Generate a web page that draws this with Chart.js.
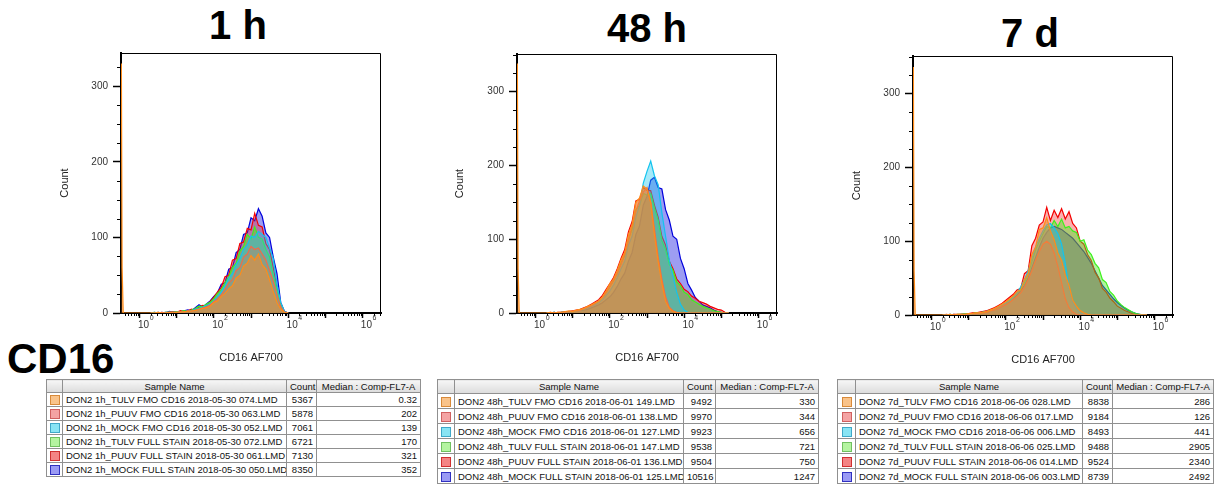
<!DOCTYPE html>
<html>
<head>
<meta charset="utf-8">
<title>CD16 AF700 histograms</title>
<script src="https://cdn.jsdelivr.net/npm/chart.js@4.4.1/dist/chart.umd.min.js"></script>
<style>
    body { margin: 0; width: 1218px; height: 494px; position: relative; overflow: hidden; background: #fff; font-family: "Liberation Sans", Arial, sans-serif; }
    .big-title { position: absolute; font-weight: bold; font-size: 40px; line-height: 40px; color: #000; white-space: nowrap; transform: translateX(-50%); }
    .marker-title { position: absolute; left: 7px; top: 338px; font-weight: bold; font-size: 42px; line-height: 42px; color: #000; }
    .panel { position: absolute; }
    .sample-table { position: absolute; border-collapse: collapse; table-layout: fixed; font-size: 9.5px; color: #111; background: #fff; border: 1px solid #404040; }
    .sample-table th, .sample-table td { border: 1px solid #909090; padding: 0 3px; white-space: nowrap; overflow: hidden; }
    .sample-table th { font-weight: normal; background: linear-gradient(#f6f6f6, #dcdcdc); text-align: center; }
    .sample-table td.num { text-align: right; }
    .sample-table td.key { padding: 0; text-align: center; }
    .swatch { display: inline-block; width: 8px; height: 8px; border: 1px solid; vertical-align: middle; }
</style>
</head>
<body>
<div class="big-title" style="left:238px; top:5px;">1 h</div>
<div class="big-title" style="left:647px; top:8px;">48 h</div>
<div class="big-title" style="left:1030px; top:13px;">7 d</div>
<div class="marker-title">CD16</div>

<div class="panel" style="left:54px; top:40px;"><canvas id="chart-1h" width="336" height="329"></canvas></div>
<div class="panel" style="left:449px; top:40px;"><canvas id="chart-48h" width="337" height="329"></canvas></div>
<div class="panel" style="left:846px; top:40px;"><canvas id="chart-7d" width="336" height="331"></canvas></div>

<script>
// ---- Data ----
// Bin centres on the CD16 AF700 axis, in decades (log10 of intensity)
const bins1h = [0.3, 0.4, 0.5, 0.6, 0.7, 0.8, 0.9, 1.0, 1.1, 1.2, 1.3, 1.4, 1.5, 1.6, 1.7, 1.8, 1.9, 2.0, 2.1, 2.2,
    2.3, 2.4, 2.5, 2.6, 2.7, 2.8, 2.9, 3.0, 3.1, 3.2, 3.3, 3.4, 3.5, 3.6, 3.7, 3.8, 3.9, 4.0];
const bins48h = [0.3, 0.4, 0.5, 0.6, 0.7, 0.8, 0.9, 1.0, 1.1, 1.2, 1.3, 1.4, 1.5, 1.6, 1.7, 1.8, 1.9, 2.0, 2.1, 2.2,
    2.3, 2.4, 2.5, 2.6, 2.7, 2.8, 2.9, 3.0, 3.1, 3.2, 3.3, 3.4, 3.5, 3.6, 3.7, 3.8, 3.9, 4.0, 4.1, 4.2,
    4.3, 4.4, 4.5, 4.6, 4.7, 4.8, 4.9, 5.0, 5.1, 5.2];
const bins7d = [0.3, 0.4, 0.5, 0.6, 0.7, 0.8, 0.9, 1.0, 1.1, 1.2, 1.3, 1.4, 1.5, 1.6, 1.7, 1.8, 1.9, 2.0, 2.1, 2.2,
    2.3, 2.4, 2.5, 2.6, 2.7, 2.8, 2.9, 3.0, 3.1, 3.2, 3.3, 3.4, 3.5, 3.6, 3.7, 3.8, 3.9, 4.0, 4.1, 4.2,
    4.3, 4.4, 4.5, 4.6, 4.7, 4.8, 4.9, 5.0, 5.1, 5.2, 5.3, 5.4, 5.5, 5.6, 5.7, 5.8];

// Off-scale pile-up in the first channel (TULV FMO, drawn on top)
const pileBins = [-0.49, -0.47, -0.44];
const pile1h = [330, 60, 0];
const pile48h = [338, 60, 0];
const pile7d = [336, 60, 0];

// Counts per channel, 1 h
const tulvFmo1h  = [0,0,1,0,0,1,0,1,1,2, 2,3,3,5,6,7,9,14,16,22, 26,32,36,46,50,62,66,76,70,78, 64,58,44,28,14,5,1,0];
const puuvFmo1h  = [0,0,0,1,0,1,1,1,2,1, 3,2,4,5,7,8,11,15,19,24, 31,40,44,56,60,74,78,88,84,86, 78,70,56,42,24,8,1,0];
const mockFmo1h  = [0,0,1,0,1,1,1,1,2,2, 3,3,5,6,8,10,12,16,22,28, 36,46,52,64,72,84,90,102,100,108, 104,100,86,72,38,14,2,0];
const tulvFull1h = [0,1,0,0,1,1,1,2,2,3, 2,4,6,9,8,12,14,19,26,31, 40,48,60,66,82,88,104,98,114,100, 98,84,74,50,30,10,1,0];
const puuvFull1h = [0,0,1,0,1,1,2,1,3,2, 3,5,4,8,10,9,15,21,28,34, 48,50,70,72,92,94,112,110,132,116, 114,92,84,60,34,12,2,0];
const mockFull1h = [0,1,0,1,0,2,1,2,2,3, 4,3,7,11,8,12,16,22,27,38, 40,58,60,80,84,104,106,126,122,138, 128,106,100,74,52,14,2,0];

// Counts per channel, 48 h
const tulvFmo48h  = [0,1,0,1,1,2,3,2,4,5, 6,9,11,14,16,22,30,40,46,58, 72,82,106,120,150,156,172,168,150,106,
    70,40,16,6,2,0,0,0,0,0, 0,0,0,0,0,0,0,0,0,0];
const puuvFmo48h  = [0,0,1,0,1,1,2,3,3,4, 6,8,10,13,17,21,28,36,44,54, 66,80,98,118,138,152,164,170,150,114,
    76,46,22,8,3,1,0,0,0,0, 0,0,0,0,0,0,0,0,0,0];
const mockFmo48h  = [0,0,1,0,1,1,2,2,3,4, 5,7,9,11,14,18,24,30,38,48, 60,70,92,104,130,146,176,192,206,186,
    174,136,104,72,50,28,12,4,1,0, 0,0,0,0,0,0,0,0,0,0];
const tulvFull48h = [0,0,1,0,1,1,2,2,3,4, 6,8,10,13,16,21,28,36,44,54, 68,78,100,114,140,146,162,160,162,142,
    126,98,86,66,58,42,37,28,25,18, 15,12,9,7,5,3,2,1,0,0];
const puuvFull48h = [0,1,0,1,1,2,2,3,4,5, 7,9,12,15,18,24,32,40,48,60, 74,86,110,124,152,154,170,166,166,146,
    130,104,92,70,60,46,40,32,29,23, 20,16,14,12,9,7,5,4,1,0];
const mockFull48h = [0,0,1,0,1,1,1,2,2,3, 4,5,7,9,11,14,18,22,28,36, 46,54,70,82,106,118,146,158,180,184,
    170,168,140,126,104,100,74,60,40,31, 21,16,11,9,7,4,2,1,0,0];

// Counts per channel, 7 d
const tulvFmo7d  = [0,0,1,0,1,1,1,2,2,3, 3,4,5,7,9,12,15,18,22,26, 32,34,48,56,82,92,116,118,132,114,
    102,84,74,54,40,20,12,6,3,1, 0,0,0,0,0,0,0,0,0,0, 0,0,0,0,0,0];
const puuvFmo7d  = [0,0,0,1,0,1,1,1,2,2, 3,3,4,6,7,9,12,14,17,21, 25,30,38,48,60,74,86,96,100,96,
    84,66,44,22,10,4,1,0,0,0, 0,0,0,0,0,0,0,0,0,0, 0,0,0,0,0,0];
const mockFmo7d  = [0,0,0,1,0,1,1,1,2,2, 3,4,5,6,8,10,13,16,19,24, 30,38,48,60,76,92,104,114,122,124,
    118,110,96,70,36,18,8,3,1,0, 0,0,0,0,0,0,0,0,0,0, 0,0,0,0,0,0];
const tulvFull7d = [0,0,1,0,1,1,2,1,2,3, 3,4,5,7,8,10,13,16,20,24, 30,36,44,56,72,88,100,110,120,118,
    128,120,130,118,120,114,112,100,102,88, 82,70,64,48,44,32,27,19,14,10, 7,4,2,1,0,0];
const puuvFull7d = [0,1,0,1,1,1,2,2,3,3, 4,5,6,8,10,13,16,20,24,28, 34,36,56,60,94,104,122,126,146,128,
    142,132,144,130,140,124,118,100,96,82, 74,58,50,36,31,23,18,12,9,6, 4,2,1,0,0,0];
const mockFull7d = [0,0,1,0,0,1,1,2,2,2, 3,4,5,6,8,10,12,15,18,22, 27,33,40,50,64,78,92,104,112,118,
    120,118,116,112,108,104,98,92,86,78, 70,60,50,40,34,28,22,17,13,9, 6,4,2,1,0,0];

// Axis ticks
const decadeTicks = [0, 1, 2, 3, 4, 5, 6];
const countTicks = [0, 100, 200, 300];

// Sample tables
const sampleNames1h = ['DON2 1h_TULV FMO CD16 2018-05-30 074.LMD', 'DON2 1h_PUUV FMO CD16 2018-05-30 063.LMD',
    'DON2 1h_MOCK FMO CD16 2018-05-30 052.LMD', 'DON2 1h_TULV FULL STAIN 2018-05-30 072.LMD',
    'DON2 1h_PUUV FULL STAIN 2018-05-30 061.LMD', 'DON2 1h_MOCK FULL STAIN 2018-05-30 050.LMD'];
const sampleCounts1h = ['5367', '5878', '7061', '6721', '7130', '8350'];
const sampleMedians1h = ['0.32', '202', '139', '170', '321', '352'];

const sampleNames48h = ['DON2 48h_TULV FMO CD16 2018-06-01 149.LMD', 'DON2 48h_PUUV FMO CD16 2018-06-01 138.LMD',
    'DON2 48h_MOCK FMO CD16 2018-06-01 127.LMD', 'DON2 48h_TULV FULL STAIN 2018-06-01 147.LMD',
    'DON2 48h_PUUV FULL STAIN 2018-06-01 136.LMD', 'DON2 48h_MOCK FULL STAIN 2018-06-01 125.LMD'];
const sampleCounts48h = ['9492', '9970', '9923', '9538', '9504', '10516'];
const sampleMedians48h = ['330', '344', '656', '721', '750', '1247'];

const sampleNames7d = ['DON2 7d_TULV FMO CD16 2018-06-06 028.LMD', 'DON2 7d_PUUV FMO CD16 2018-06-06 017.LMD',
    'DON2 7d_MOCK FMO CD16 2018-06-06 006.LMD', 'DON2 7d_TULV FULL STAIN 2018-06-06 025.LMD',
    'DON2 7d_PUUV FULL STAIN 2018-06-06 014.LMD', 'DON2 7d_MOCK FULL STAIN 2018-06-06 003.LMD'];
const sampleCounts7d = ['8838', '9184', '8493', '9488', '9524', '8739'];
const sampleMedians7d = ['286', '126', '441', '2905', '2340', '2492'];

// ---- Styles ----
const FONT = '"Liberation Sans", Arial, sans-serif';
const lineColors = ['#ff8c1a', '#f26a48', '#12c4ee', '#3cf21c', '#f40000', '#0000dc'];
const fillColors = ['rgba(240,140,50,0.55)', 'rgba(230,110,80,0.3)', 'rgba(30,200,240,0.4)',
    'rgba(80,230,40,0.45)', 'rgba(240,30,30,0.35)', 'rgba(60,60,230,0.5)'];
const swatchFill = ['#f9c38a', '#f4a3a3', '#88e4f4', '#b4f4a0', '#f48484', '#9a9af4'];
const swatchEdge = ['#d88a3a', '#d06060', '#40a8c8', '#70c060', '#d03030', '#3030c0'];
const LABEL_OFFSET = 4;

// Plugin: minor ticks, decade exponents and the thin top/right frame
const axisDecor = {
    id: 'axisDecor',
    afterDraw(chart) {
        const { ctx, chartArea, scales } = chart;
        const x = scales.x;
        const y = scales.y;
        ctx.save();
        ctx.strokeStyle = '#000';
        ctx.lineWidth = 1;
        ctx.beginPath();
        // minor decade ticks (2..9 x 10^n)
        for (let dec = -1; dec <= 6; dec++) {
            for (let m = 2; m <= 9; m++) {
                const v = dec + Math.log10(m);
                if (v < x.min || v > x.max) continue;
                const px = Math.round(x.getPixelForValue(v)) + 0.5;
                ctx.moveTo(px, chartArea.bottom);
                ctx.lineTo(px, chartArea.bottom + 3);
            }
        }
        // minor count ticks every 25
        for (let c = 25; c < y.max; c += 25) {
            if (c % 100 === 0) continue;
            const py = Math.round(y.getPixelForValue(c)) + 0.5;
            ctx.moveTo(chartArea.left - 4, py);
            ctx.lineTo(chartArea.left, py);
        }
        // thin frame
        ctx.moveTo(chartArea.left, chartArea.top + 0.5);
        ctx.lineTo(chartArea.right - 0.5, chartArea.top + 0.5);
        ctx.lineTo(chartArea.right - 0.5, chartArea.bottom);
        ctx.stroke();

        // exponents next to the "10" tick labels
        ctx.font = '10px ' + FONT;
        const baseWidth = ctx.measureText('10').width;
        ctx.font = '7px ' + FONT;
        ctx.fillStyle = '#333';
        ctx.textAlign = 'left';
        ctx.textBaseline = 'top';
        decadeTicks.filter(v => v % 2 === 0).forEach(v => {
            const px = x.getPixelForValue(v) + LABEL_OFFSET + baseWidth / 2 + 0.5;
            ctx.fillText(String(v), px, chartArea.bottom + 2);
        });
        ctx.restore();
    }
};

// Function to create one overlaid histogram panel
function createHistogram(canvasId, bins, seriesValues, pileTop, yMax, padTop, yWidth) {
    const canvas = document.getElementById(canvasId);
    const datasets = seriesValues.map((values, i) => {
        let points = bins.map((x, j) => ({ x: x, y: values[j] }));
        if (i === 0) {
            points = pileBins.map((x, j) => ({ x: x, y: pileTop[j] })).concat(points);
        }
        return {
            data: points,
            borderColor: lineColors[i],
            backgroundColor: fillColors[i],
            borderWidth: 1.2,
            pointRadius: 0,
            fill: 'origin',
            tension: 0
        };
    });

    return new Chart(canvas, {
        type: 'line',
        data: { datasets: datasets },
        options: {
            responsive: false,
            animation: false,
            devicePixelRatio: 1,
            layout: { padding: { top: padTop, right: 9, left: 0, bottom: 0 } },
            plugins: { legend: { display: false }, tooltip: { enabled: false } },
            scales: {
                x: {
                    type: 'linear',
                    min: -0.5,
                    max: 6.5,
                    afterBuildTicks: scale => { scale.ticks = decadeTicks.map(v => ({ value: v })); },
                    afterFit: scale => { scale.height = 56; },
                    ticks: {
                        autoSkip: false,
                        maxRotation: 0,
                        padding: 1,
                        labelOffset: LABEL_OFFSET,
                        color: '#333',
                        font: { family: FONT, size: 10 },
                        callback: v => (v % 2 === 0 ? '10' : '')
                    },
                    grid: { drawOnChartArea: false, tickLength: 5, tickWidth: 1.5, tickColor: '#000' },
                    border: { color: '#000', width: 2 },
                    title: { display: true, text: 'CD16 AF700', color: '#222', font: { family: FONT, size: 11 }, padding: { top: 0, bottom: 4 } }
                },
                y: {
                    min: 0,
                    max: yMax,
                    afterBuildTicks: scale => { scale.ticks = countTicks.map(v => ({ value: v })); },
                    afterFit: scale => { scale.width = yWidth; },
                    ticks: { padding: 5, color: '#333', font: { family: FONT, size: 10 } },
                    grid: { drawOnChartArea: false, tickLength: 8, tickWidth: 1.5, tickColor: '#000' },
                    border: { color: '#000', width: 2 },
                    title: { display: true, text: 'Count', color: '#222', font: { family: FONT, size: 11 }, padding: { top: 4, bottom: 0 } }
                }
            }
        },
        plugins: [axisDecor]
    });
}

// Function to build a FlowJo-like sample table
function createSampleTable(names, counts, medians, left, top, colWidths, rowHeight) {
    const table = document.createElement('table');
    table.className = 'sample-table';
    table.style.left = left + 'px';
    table.style.top = top + 'px';
    table.style.width = colWidths.reduce((a, b) => a + b, 0) + 'px';

    const colgroup = document.createElement('colgroup');
    colWidths.forEach(w => {
        const col = document.createElement('col');
        col.style.width = w + 'px';
        colgroup.appendChild(col);
    });
    table.appendChild(colgroup);

    const head = document.createElement('tr');
    ['', 'Sample Name', 'Count', 'Median : Comp-FL7-A'].forEach(text => {
        const th = document.createElement('th');
        th.textContent = text;
        th.style.height = (rowHeight - 2) + 'px';
        head.appendChild(th);
    });
    table.appendChild(head);

    names.forEach((name, i) => {
        const tr = document.createElement('tr');
        const key = document.createElement('td');
        key.className = 'key';
        const swatch = document.createElement('span');
        swatch.className = 'swatch';
        swatch.style.background = swatchFill[i];
        swatch.style.borderColor = swatchEdge[i];
        key.appendChild(swatch);
        tr.appendChild(key);

        const nameCell = document.createElement('td');
        nameCell.textContent = name;
        tr.appendChild(nameCell);

        const countCell = document.createElement('td');
        countCell.className = 'num';
        countCell.textContent = counts[i];
        tr.appendChild(countCell);

        const medianCell = document.createElement('td');
        medianCell.className = 'num';
        medianCell.textContent = medians[i];
        tr.appendChild(medianCell);

        tr.childNodes.forEach(td => { td.style.height = (rowHeight - 1) + 'px'; });
        table.appendChild(tr);
    });

    document.body.appendChild(table);
}

createHistogram('chart-1h', bins1h,
    [tulvFmo1h, puuvFmo1h, mockFmo1h, tulvFull1h, puuvFull1h, mockFull1h], pile1h, 344, 13, 67);
createHistogram('chart-48h', bins48h,
    [tulvFmo48h, puuvFmo48h, mockFmo48h, tulvFull48h, puuvFull48h, mockFull48h], pile48h, 351, 14, 68);
createHistogram('chart-7d', bins7d,
    [tulvFmo7d, puuvFmo7d, mockFmo7d, tulvFull7d, puuvFull7d, mockFull7d], pile7d, 351, 16, 67);

createSampleTable(sampleNames1h, sampleCounts1h, sampleMedians1h, 46, 379, [16, 224, 30, 104], 14);
createSampleTable(sampleNames48h, sampleCounts48h, sampleMedians48h, 437, 379, [17, 229, 32, 103], 15);
createSampleTable(sampleNames7d, sampleCounts7d, sampleMedians7d, 837, 379, [18, 227, 30, 101], 15);
</script>
</body>
</html>
